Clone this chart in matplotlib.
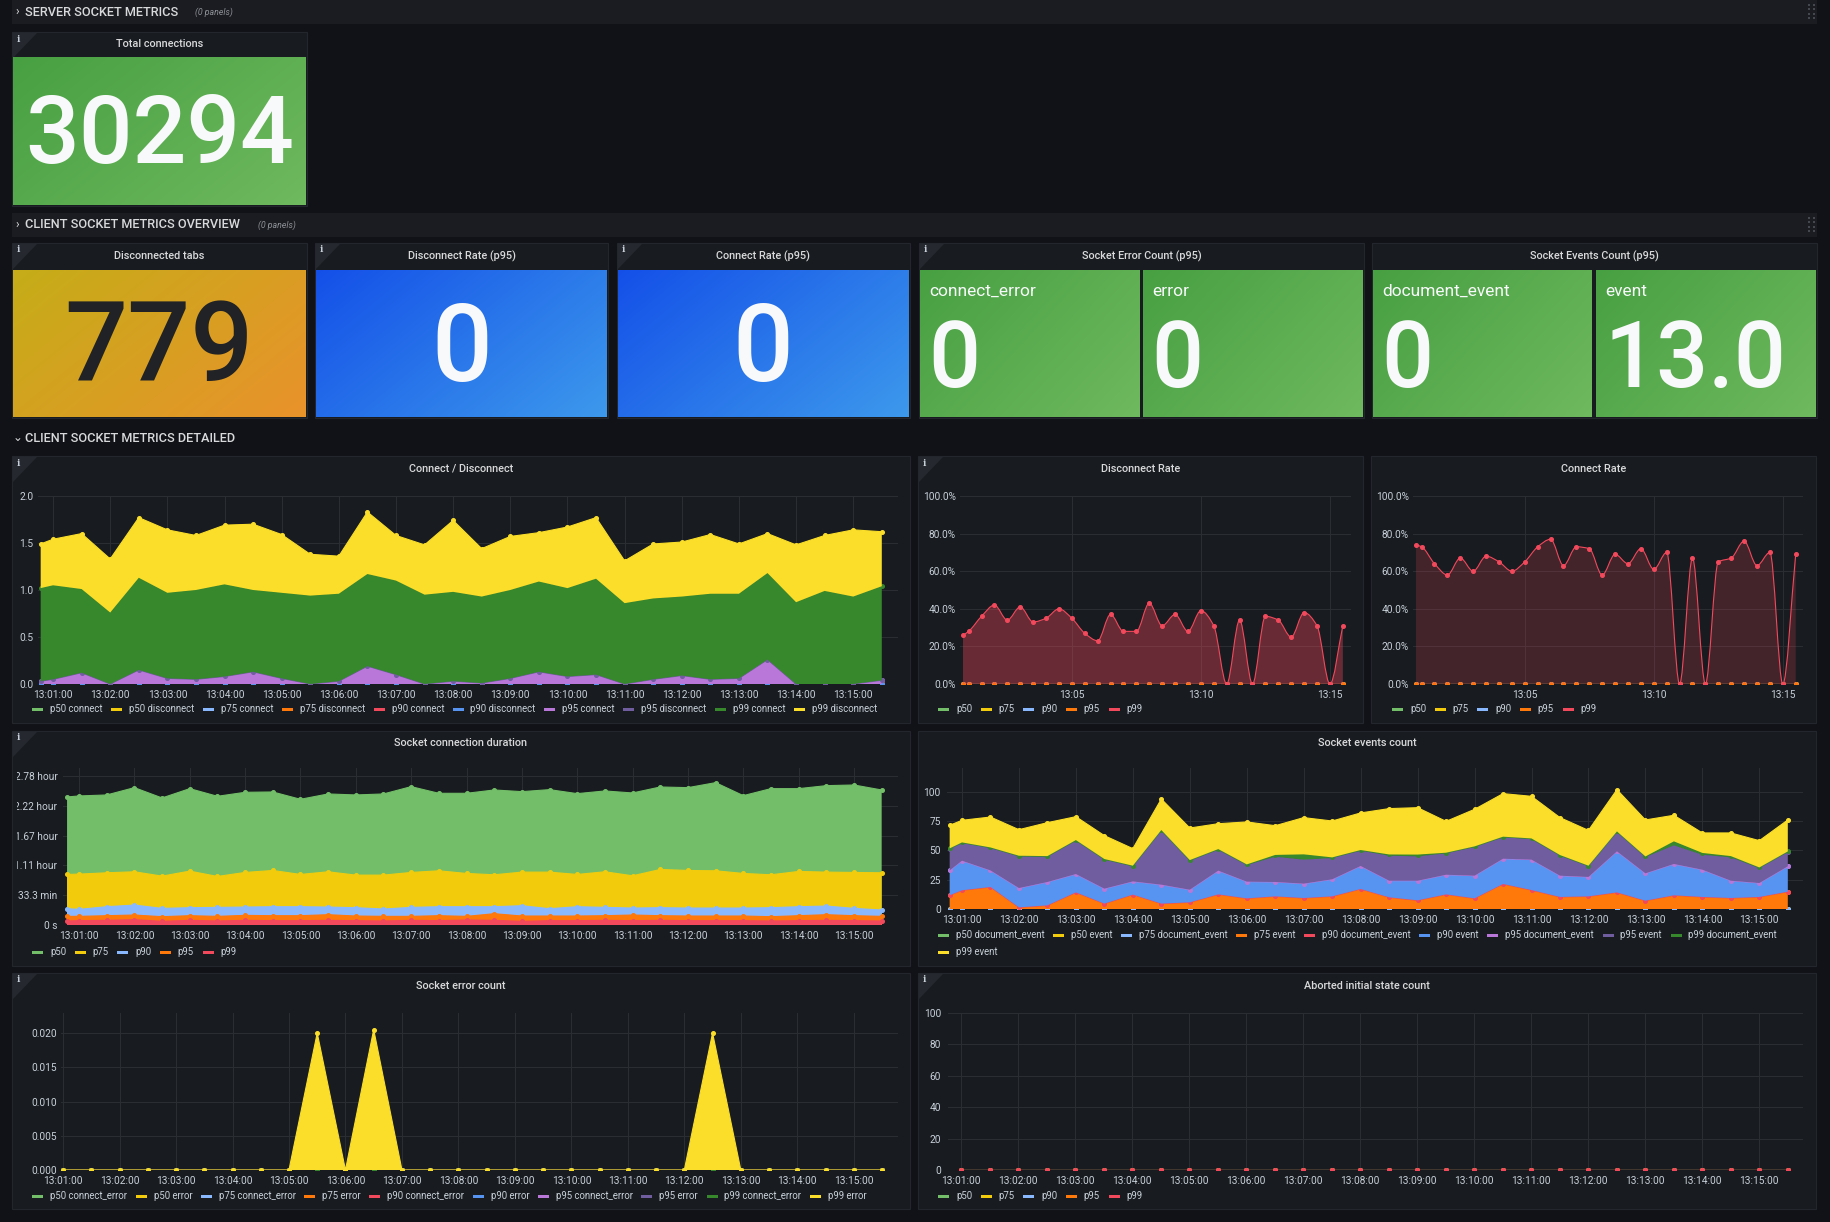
import numpy as np
import matplotlib
matplotlib.use("Agg")
import matplotlib.pyplot as plt
import matplotlib.colors as mcolors
from matplotlib.patches import Rectangle, Polygon, PathPatch
from matplotlib.path import Path
from matplotlib.transforms import Bbox

plt.rcParams['font.family'] = ['Roboto', 'DejaVu Sans']

W, H = 1830, 1222
BG = '#111217'
PANEL = '#181b1f'
BORDER = '#23262c'
ROWBAND = '#1a1c21'
TITLE = '#d8d9da'
TICK = '#c7d0d9'
GRID = '#2a2d32'
PALETTE = ['#73BF69', '#F2CC0C', '#8AB8FF', '#FF780A', '#F2495C',
           '#5794F2', '#B877D9', '#705DA0', '#37872D', '#FADE2A']

# ---------------- data ----------------
times = ["13:00:47", "13:01:00", "13:01:30", "13:02:00", "13:02:30", "13:03:00", "13:03:30",
         "13:04:00", "13:04:30", "13:05:00", "13:05:30", "13:06:00", "13:06:30", "13:07:00",
         "13:07:30", "13:08:00", "13:08:30", "13:09:00", "13:09:30", "13:10:00", "13:10:30",
         "13:11:00", "13:11:30", "13:12:00", "13:12:30", "13:13:00", "13:13:30", "13:14:00",
         "13:14:30", "13:15:00", "13:15:30"]
err_times = times[1:]
minute_ticks = ["13:01:00", "13:02:00", "13:03:00", "13:04:00", "13:05:00", "13:06:00", "13:07:00",
                "13:08:00", "13:09:00", "13:10:00", "13:11:00", "13:12:00", "13:13:00", "13:14:00",
                "13:15:00"]
rate_ticks = ["13:05", "13:10", "13:15"]

# stat panels
total_connections = "30294"
disconnected_tabs = "779"
disconnect_rate_p95 = "0"
connect_rate_p95 = "0"
socket_error_names = ["connect_error", "error"]
socket_error_values = ["0", "0"]
socket_event_names = ["document_event", "event"]
socket_event_values = ["0", "13.0"]

# Connect / Disconnect (stacked)
cd_labels = ["p50 connect", "p50 disconnect", "p75 connect", "p75 disconnect", "p90 connect",
             "p90 disconnect", "p95 connect", "p95 disconnect", "p99 connect", "p99 disconnect"]
zero31 = [0.0] * 31
cd_p95_connect = [0.03, 0.05, 0.12, 0.0, 0.15, 0.06, 0.05, 0.08, 0.13, 0.06, 0.0, 0.03, 0.19, 0.10,
                  0.0, 0.03, 0.01, 0.06, 0.13, 0.08, 0.10, 0.0, 0.05, 0.09, 0.05, 0.06, 0.26, 0.0,
                  0.0, 0.0, 0.04]
cd_p99_connect = [0.99, 1.00, 0.89, 0.76, 0.98, 0.91, 0.95, 0.98, 0.87, 0.91, 0.94, 0.93, 0.98, 1.00,
                  0.95, 0.95, 0.92, 0.94, 0.96, 0.94, 1.02, 0.86, 0.86, 0.84, 0.91, 0.90, 0.92, 0.87,
                  0.99, 0.93, 1.00]
cd_p99_disconnect = [0.47, 0.49, 0.59, 0.57, 0.64, 0.67, 0.58, 0.63, 0.70, 0.62, 0.44, 0.40, 0.66,
                     0.48, 0.53, 0.76, 0.51, 0.57, 0.52, 0.65, 0.65, 0.45, 0.58, 0.58, 0.63, 0.53,
                     0.42, 0.61, 0.59, 0.71, 0.58]
cd_series = [zero31, zero31, zero31, zero31, zero31, zero31,
             cd_p95_connect, zero31, cd_p99_connect, cd_p99_disconnect]

# Disconnect / Connect rate (percent)
pct_labels = ["p50", "p75", "p90", "p95", "p99"]
pct_colors = ['#73BF69', '#F2CC0C', '#8AB8FF', '#FF780A', '#F2495C']
disconnect_rate_p99 = [26, 28, 36, 42, 34, 41, 33, 35, 40, 35, 27, 23, 37, 28, 28, 43, 31, 37, 28, 39,
                       31, 0, 34, 0, 36, 34, 25, 38, 31, 0, 31]
connect_rate_p99 = [74, 73, 64, 58, 67, 60, 68, 65, 60, 65, 73, 77, 63, 73, 72, 58, 69, 64, 72, 61,
                    70, 0, 67, 0, 65, 67, 76, 63, 70, 0, 69]

# Socket connection duration (seconds)
dur_p50 = [8594, 8661, 8728, 9219, 8527, 9152, 8638, 8906, 8929, 8437, 8795, 8728, 8795, 9286, 8839,
           8839, 9062, 8951, 9085, 8817, 8996, 8862, 9263, 9219, 9554, 8683, 9152, 9152, 9353, 9397,
           9062]
dur_p75 = [3393, 3415, 3504, 3571, 3281, 3616, 3259, 3527, 3660, 3393, 3571, 3348, 3348, 3527, 3638,
           3460, 3370, 3549, 3549, 3393, 3571, 3303, 3727, 3660, 3638, 3460, 3370, 3594, 3549, 3527,
           3504]
dur_p90 = [1094, 1049, 1228, 1339, 1116, 1161, 1183, 1205, 1228, 1228, 1205, 1161, 1071, 1183, 1228,
           1228, 1228, 1295, 1094, 1228, 1183, 1138, 1161, 1138, 1138, 1138, 1161, 1228, 1272, 1116,
           1004]
dur_p95 = [580, 580, 625, 670, 558, 625, 580, 647, 625, 625, 692, 603, 580, 580, 625, 580, 759, 603,
           603, 603, 625, 670, 625, 603, 603, 603, 558, 625, 692, 625, 580]
dur_p99 = [268, 290, 312, 357, 246, 312, 268, 312, 290, 290, 312, 290, 268, 312, 290, 335, 312, 246,
           290, 290, 312, 290, 312, 290, 290, 290, 268, 290, 312, 290, 268]
dur_ticks = [0, 2000, 4000, 6000, 8000, 10000]
dur_tick_labels = ["0 s", "33.3 min", "1.11 hour", "1.67 hour", "2.22 hour", "2.78 hour"]

# Socket events count (stacked)
ev_labels = ["p50 document_event", "p50 event", "p75 document_event", "p75 event",
             "p90 document_event", "p90 event", "p95 document_event", "p95 event",
             "p99 document_event", "p99 event"]
ev_p75_event = [11.7, 16.0, 18.8, 1.4, 3.1, 14.2, 4.6, 12.3, 4.6, 5.7, 12.5, 9.1, 10.8, 9.4, 10.8,
                17.1, 10.0, 7.4, 12.5, 9.1, 21.4, 16.2, 10.3, 10.8, 14.2, 7.1, 11.7, 10.3, 9.4, 10.3,
                14.8]
ev_p90_event = [21.3, 25.3, 14.2, 16.5, 20.0, 15.7, 12.8, 11.3, 16.2, 10.8, 20.3, 14.3, 12.3, 12.3,
                14.6, 19.7, 14.2, 16.8, 16.8, 19.4, 21.6, 26.0, 18.2, 16.6, 35.1, 23.4, 26.8, 23.3,
                14.8, 11.9, 21.7]
ev_p95_event = [18.3, 15.1, 19.1, 27.1, 21.6, 28.5, 24.8, 12.9, 46.2, 24.8, 17.9, 14.2, 21.6, 20.5,
                18.2, 13.1, 21.4, 20.8, 18.3, 24.5, 18.3, 17.6, 17.1, 9.1, 16.5, 13.9, 15.9, 12.8,
                20.0, 12.8, 12.2]
ev_p99_document_event = [0.5, 0.5, 0.5, 0.5, 0.5, 0.5, 0.5, 0.5, 0.5, 0.5, 0.5, 0.5, 1.5, 4.5, 0.5,
                         0.5, 1.0, 1.5, 0.5, 0.5, 0.5, 0.5, 0.5, 0.5, 0.5, 0.5, 3.4, 1.5, 1.0, 0.5,
                         0.5]
ev_p99_event = [19.7, 18.9, 26.0, 22.3, 28.6, 20.0, 20.0, 14.6, 26.5, 27.4, 21.7, 36.3, 25.0, 31.4,
                31.1, 31.7, 39.2, 40.1, 26.8, 31.7, 36.8, 36.0, 32.0, 30.2, 35.7, 31.2, 22.3, 17.1,
                19.8, 22.9, 26.9]
ev_series = [zero31, zero31, zero31, ev_p75_event, zero31, ev_p90_event, zero31, ev_p95_event,
             ev_p99_document_event, ev_p99_event]

# Socket error count (stacked)
err_labels = ["p50 connect_error", "p50 error", "p75 connect_error", "p75 error",
              "p90 connect_error", "p90 error", "p95 connect_error", "p95 error",
              "p99 connect_error", "p99 error"]
zero30 = [0.0] * 30
err_p99_error = [0, 0, 0, 0, 0, 0, 0, 0, 0, 0.020, 0, 0.0205, 0, 0, 0, 0, 0, 0, 0, 0, 0, 0, 0,
                 0.020, 0, 0, 0, 0, 0, 0]
err_series = [zero30] * 9 + [err_p99_error]

# Aborted initial state count
aborted_series = [zero30] * 5


# ---------------- helpers ----------------
def to_sec(s):
    p = [int(v) for v in s.split(':')]
    return (p[0] - 13) * 3600 + p[1] * 60 + (p[2] if len(p) > 2 else 0)


T = np.array([to_sec(s) for s in times], dtype=float)
TE = np.array([to_sec(s) for s in err_times], dtype=float)
MT = [to_sec(s) for s in minute_ticks]
RT = [to_sec(s) for s in rate_ticks]

fig = plt.figure(figsize=(W / 100, H / 100), dpi=100, facecolor=BG)
cv = fig.add_axes([0, 0, 1, 1], zorder=0)
cv.set_xlim(0, W)
cv.set_ylim(H, 0)
cv.axis('off')
renderer = fig.canvas.get_renderer()


def px_axes(x0, y0, x1, y1):
    ax = fig.add_axes([x0 / W, 1 - y1 / H, (x1 - x0) / W, (y1 - y0) / H], zorder=2)
    ax.set_facecolor('none')
    return ax


def info_corner(x0, y0):
    cv.add_patch(Polygon([(x0 + 1, y0 + 1), (x0 + 25, y0 + 1), (x0 + 1, y0 + 26)], closed=True,
                         fc='#25282e', ec='none', zorder=2))
    cv.text(x0 + 6, y0 + 7, 'i', family='DejaVu Serif', fontweight='bold', fontsize=6.5,
            color=TICK, ha='center', va='center', zorder=6)


def panel(x0, y0, x1, y1, title, ty, info=True):
    cv.add_patch(Rectangle((x0, y0), x1 - x0, y1 - y0, fc=PANEL, ec=BORDER, lw=0.8, zorder=1))
    if info:
        info_corner(x0, y0)
    cv.text((x0 + x1) / 2, ty, title, ha='center', va='center', color=TITLE, fontsize=7.8,
            fontweight='medium', zorder=6)


def gradient(x0, y0, x1, y1, c1, c2):
    xs = np.linspace(0, 1, 160)
    ys = np.linspace(0, 1, 80)
    g = 0.62 * xs[None, :] + 0.38 * ys[:, None]
    a = np.array(mcolors.to_rgb(c1))
    b = np.array(mcolors.to_rgb(c2))
    img = a[None, None, :] * (1 - g[..., None]) + b[None, None, :] * g[..., None]
    cv.imshow(img, extent=(x0, x1, y1, y0), aspect='auto', interpolation='bilinear', zorder=3)


def row_header(y0, y1, title, sub, subx, band=True, chevron='\u203a'):
    yc = (y0 + y1) / 2
    if band:
        cv.add_patch(Rectangle((12, y0), 1805, y1 - y0, fc=ROWBAND, ec='none', zorder=1))
        for dx in (1808, 1812.5):
            for dy in (-7, -2.7, 1.6, 6):
                cv.add_patch(Rectangle((dx, yc + dy - 1), 2.2, 2.2, fc='#45484e', ec='none', zorder=2))
    cv.text(17.5, yc - 0.5, chevron, ha='center', va='center', color=TITLE, fontsize=8.5, zorder=6,
            family=['Roboto', 'DejaVu Sans'])
    cv.text(25, yc, title, ha='left', va='center', color=TITLE, fontsize=9.2,
            fontweight='medium', zorder=6)
    if sub:
        cv.text(subx, yc + 0.5, sub, ha='left', va='center', color='#8e9197', fontsize=6.3,
                style='italic', zorder=6)


def legend(x, y, items, xmax, fs=6.9, row_h=17):
    cx, cy = x, y
    for label, color in items:
        t = cv.text(0, 0, label, fontsize=fs, color=TICK, va='center', ha='left', zorder=6)
        w = t.get_window_extent(renderer).width
        if cx > x and cx + 18 + w > xmax:
            cx = x
            cy += row_h
        t.set_position((cx + 18, cy))
        cv.add_patch(Rectangle((cx, cy - 1.3), 11, 2.8, fc=color, ec='none', zorder=6))
        cx += 18 + w + 8.5


def setup(ax, xlim, ylim, yt, yl, xt, xl, ypad=3.5, xpad=4.5):
    ax.set_xlim(*xlim)
    ax.set_ylim(*ylim)
    for s in ax.spines.values():
        s.set_visible(False)
    ax.set_xticks(xt)
    ax.set_xticklabels(xl)
    ax.set_yticks(yt)
    ax.set_yticklabels(yl)
    ax.tick_params(axis='both', length=0, labelcolor=TICK, labelsize=7.3)
    ax.tick_params(axis='y', pad=ypad)
    ax.tick_params(axis='x', pad=xpad)
    ax.grid(True, color=GRID, lw=0.8)
    ax.set_axisbelow(True)


def stacked(ax, t, series, colors, ms=2.6, lw=0.8):
    base = np.zeros(len(t))
    for vals, c in zip(series, colors):
        top = base + np.asarray(vals, dtype=float)
        ax.fill_between(t, base, top, facecolor=c, lw=0, zorder=2)
        ax.plot(t, top, color=c, lw=lw, zorder=2)
        ax.plot(t, top, ls='none', marker='o', color=c, ms=ms, zorder=2)
        base = top


def overlap(ax, t, series, colors, ms=2.6, lw=0.8):
    for vals, c in zip(series, colors):
        ax.fill_between(t, 0, vals, facecolor=c, lw=0, zorder=2)
        ax.plot(t, vals, color=c, lw=lw, marker='o', ms=ms, zorder=2)


def smooth_path(x, y):
    x = np.asarray(x, float)
    y = np.asarray(y, float)
    n = len(x)
    h = np.diff(x)
    d = np.diff(y) / h
    m = np.zeros(n)
    m[0], m[-1] = d[0], d[-1]
    for i in range(1, n - 1):
        if d[i - 1] * d[i] <= 0:
            m[i] = 0.0
        else:
            w1 = 2 * h[i] + h[i - 1]
            w2 = h[i] + 2 * h[i - 1]
            m[i] = (w1 + w2) / (w1 / d[i - 1] + w2 / d[i])
    verts = [(x[0], y[0])]
    codes = [Path.MOVETO]
    for i in range(n - 1):
        verts += [(x[i] + h[i] / 3, y[i] + m[i] * h[i] / 3),
                  (x[i + 1] - h[i] / 3, y[i + 1] - m[i + 1] * h[i] / 3),
                  (x[i + 1], y[i + 1])]
        codes += [Path.CURVE4] * 3
    return verts, codes


def rate_plot(ax, t, series, colors, fill_alpha):
    for vals, c in zip(series[:-1], colors[:-1]):
        ax.plot(t, vals, color=c, lw=0.8, marker='o', ms=2.6, zorder=2)
    vals, c = series[-1], colors[-1]
    verts, codes = smooth_path(t, vals)
    fverts = [(t[0], 0)] + verts + [(t[-1], 0), (t[0], 0)]
    fcodes = [Path.MOVETO, Path.LINETO] + codes[1:] + [Path.LINETO, Path.CLOSEPOLY]
    ax.add_patch(PathPatch(Path(fverts, fcodes), fc=c, alpha=fill_alpha, ec='none', zorder=2))
    ax.add_patch(PathPatch(Path(verts, codes), fc='none', ec=c, lw=0.8, zorder=3))
    ax.plot(t, vals, ls='none', marker='o', color=c, ms=2.6, zorder=3)


# ---------------- rows / stats ----------------
row_header(0, 24, "SERVER SOCKET METRICS", "(0 panels)", 195)
panel(12, 32, 307, 206, "Total connections", 44)
gradient(13, 57, 306, 205, '#47a042', '#6fb95e')
cv.text(160, 163, total_connections, ha='center', va='baseline', color='#f8f9fa', fontsize=68,
        fontweight='medium', zorder=6)

row_header(213, 237, "CLIENT SOCKET METRICS OVERVIEW", "(0 panels)", 258)

panel(12, 243, 307, 418, "Disconnected tabs", 256)
gradient(13, 270, 306, 417, '#c5ad18', '#e9922b')
cv.text(159, 381, disconnected_tabs, ha='center', va='baseline', color='#202226', fontsize=80,
        fontweight='medium', zorder=6)

panel(315, 243, 608, 418, "Disconnect Rate (p95)", 256)
gradient(316, 270, 607, 417, '#1450e8', '#3d99ec')
cv.text(462, 381, disconnect_rate_p95, ha='center', va='baseline', color='#f8f9fa', fontsize=77,
        fontweight='medium', zorder=6)

panel(617, 243, 910, 418, "Connect Rate (p95)", 256)
gradient(618, 270, 909, 417, '#1450e8', '#3d99ec')
cv.text(763, 381, connect_rate_p95, ha='center', va='baseline', color='#f8f9fa', fontsize=77,
        fontweight='medium', zorder=6)

panel(919, 243, 1364, 418, "Socket Error Count (p95)", 256)
panel(1372, 243, 1817, 418, "Socket Events Count (p95)", 256, info=False)
sub_boxes = [(920, 1140), (1143, 1363), (1373, 1592), (1596, 1816)]
sub_names = socket_error_names + socket_event_names
sub_vals = socket_error_values + socket_event_values
for (sx0, sx1), nm, vv in zip(sub_boxes, sub_names, sub_vals):
    gradient(sx0, 270, sx1, 417, '#47a042', '#6fb95e')
    cv.text(sx0 + 9, 296, nm, ha='left', va='baseline', color='#f8f9fa', fontsize=12.5, zorder=6)
    cv.text(sx0 + 8, 387, vv, ha='left', va='baseline', color='#f8f9fa', fontsize=66,
            fontweight='medium', zorder=6)

row_header(426, 450, "CLIENT SOCKET METRICS DETAILED", None, 0, band=False, chevron='\u2304')

# ---------------- graph panels ----------------
# Connect / Disconnect
panel(12, 456, 910, 723, "Connect / Disconnect", 469)
ax = px_axes(38, 496, 898, 684)
stacked(ax, T, cd_series, PALETTE)
setup(ax, (44.2, 947), (0, 2), [0, 0.5, 1.0, 1.5, 2.0], ["0.0", "0.5", "1.0", "1.5", "2.0"],
      MT, minute_ticks)
legend(32, 709, list(zip(cd_labels, PALETTE)), 905)

# Disconnect Rate
panel(918, 456, 1363, 723, "Disconnect Rate", 469)
ax = px_axes(960, 496, 1351, 684)
rate_plot(ax, T, [zero31, zero31, zero31, zero31, disconnect_rate_p99], pct_colors, 0.37)
pct_t = [0, 20, 40, 60, 80, 100]
pct_tl = ["0.0%", "20.0%", "40.0%", "60.0%", "80.0%", "100.0%"]
setup(ax, (40, 949), (0, 100), pct_t, pct_tl, RT, rate_ticks, ypad=3)
legend(938, 709, list(zip(pct_labels, pct_colors)), 1355)

# Connect Rate
panel(1371, 456, 1816, 723, "Connect Rate", 469, info=False)
ax = px_axes(1413, 496, 1803, 684)
rate_plot(ax, T, [zero31, zero31, zero31, zero31, connect_rate_p99], pct_colors, 0.2)
setup(ax, (40, 947), (0, 100), pct_t, pct_tl, RT, rate_ticks, ypad=3)
legend(1392, 709, list(zip(pct_labels, pct_colors)), 1810)

# Socket connection duration
panel(12, 731, 910, 966, "Socket connection duration", 743)
ax = px_axes(63, 768, 898, 925)
overlap(ax, T, [dur_p50, dur_p75, dur_p90, dur_p95, dur_p99], pct_colors)
setup(ax, (42.6, 947.7), (0, 10537), dur_ticks, dur_tick_labels, MT, minute_ticks, ypad=4)
clip = Bbox.from_extents(17, 0, W, H)
for lab in ax.get_yticklabels():
    lab.set_clip_on(True)
    lab.set_clip_box(clip)
legend(32, 952, list(zip(pct_labels, pct_colors)), 905)

# Socket events count
panel(918, 731, 1816, 966, "Socket events count", 743, info=False)
ax = px_axes(947, 768, 1803, 909)
stacked(ax, T, ev_series, PALETTE)
setup(ax, (44.2, 946), (0, 120.5), [0, 25, 50, 75, 100], ["0", "25", "50", "75", "100"],
      MT, minute_ticks, ypad=4.5)
legend(938, 935, list(zip(ev_labels, PALETTE)), 1806)

# Socket error count
panel(12, 973, 910, 1209, "Socket error count", 986)
ax = px_axes(61, 1013, 898, 1170)
stacked(ax, TE, err_series, PALETTE)
setup(ax, (57.8, 947), (0, 0.02292), [0, 0.005, 0.010, 0.015, 0.020],
      ["0.000", "0.005", "0.010", "0.015", "0.020"], MT, minute_ticks, ypad=3)
legend(32, 1196, list(zip(err_labels, PALETTE)), 905)

# Aborted initial state count
panel(918, 973, 1816, 1209, "Aborted initial state count", 986)
ax = px_axes(948, 1013, 1803, 1170)
overlap(ax, TE, aborted_series, pct_colors)
setup(ax, (46.3, 946), (0, 100), [0, 20, 40, 60, 80, 100], ["0", "20", "40", "60", "80", "100"],
      MT, minute_ticks, ypad=5)
legend(938, 1196, list(zip(pct_labels, pct_colors)), 1810)

cv.set_xlim(0, W)
cv.set_ylim(H, 0)
fig.savefig('out.png', dpi=100, facecolor=BG)
